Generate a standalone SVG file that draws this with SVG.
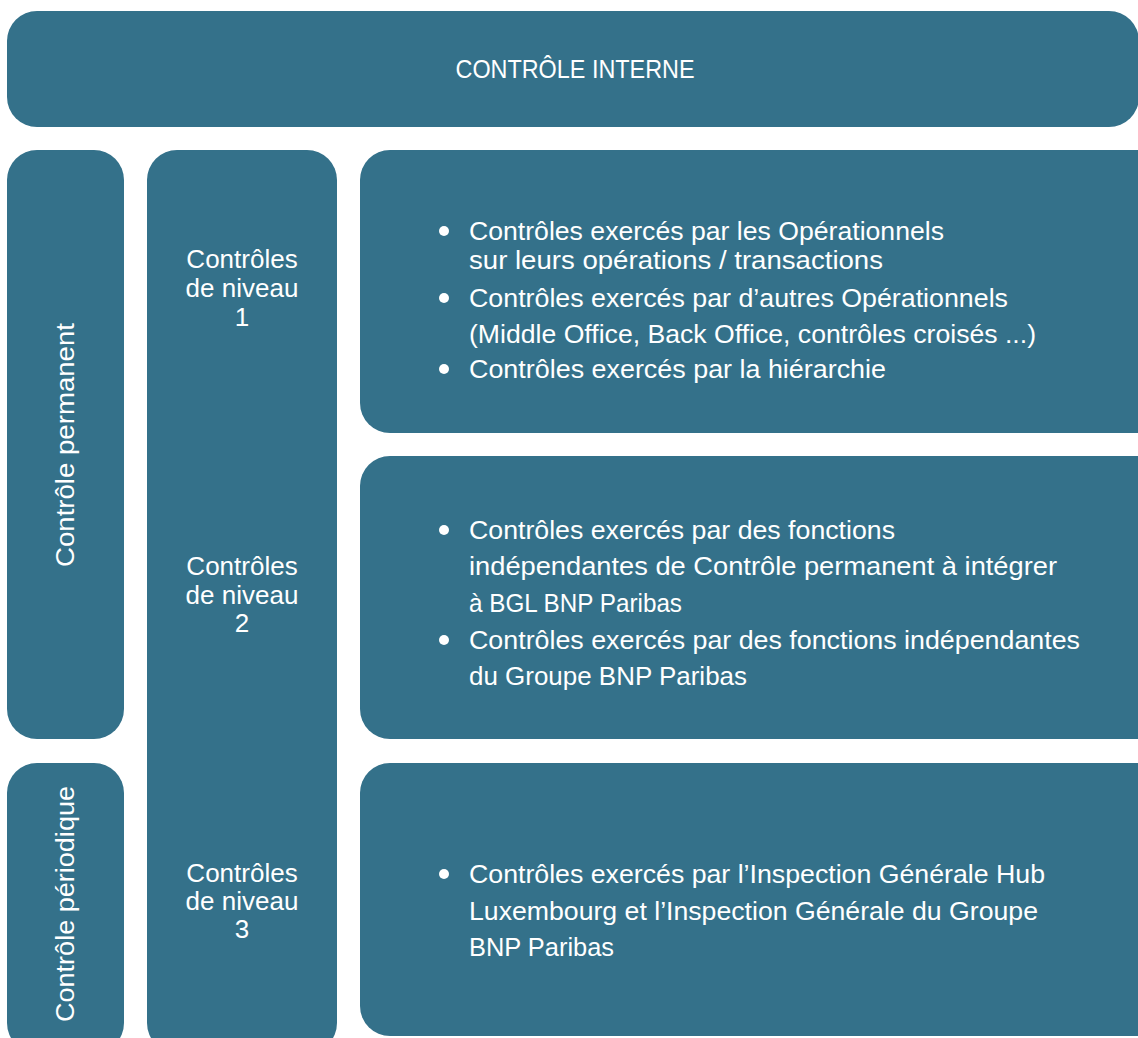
<svg xmlns="http://www.w3.org/2000/svg" width="1138" height="1038" viewBox="0 0 1138 1038">
<style>
.box{fill:#34718A}
.t{font-family:"Liberation Sans",Arial,sans-serif;fill:#ffffff;font-size:26px}
.c{text-anchor:middle}
.dot{fill:#ffffff}
</style>
<rect width="1138" height="1038" fill="#ffffff"/>
<g id="controle-interne">
<rect class="box" x="7" y="11" width="1132" height="116" rx="30"/>
<text class="t c" x="575" y="78" font-size="23.4" textLength="239" lengthAdjust="spacingAndGlyphs">CONTRÔLE INTERNE</text>
</g>
<g id="controle-permanent">
<rect class="box" x="7" y="150" width="117" height="589" rx="30"/>
<text class="t c" transform="translate(74,445) rotate(-90)" textLength="244" lengthAdjust="spacingAndGlyphs">Contrôle permanent</text>
</g>
<g id="controle-periodique">
<rect class="box" x="7" y="763" width="117" height="290" rx="30"/>
<text class="t c" transform="translate(74,904) rotate(-90)" textLength="236" lengthAdjust="spacingAndGlyphs">Contrôle périodique</text>
</g>
<g id="niveaux">
<rect class="box" x="147" y="150" width="190" height="903" rx="30"/>
<text class="t c" x="242" y="268">Contrôles</text>
<text class="t c" x="242" y="297">de niveau</text>
<text class="t c" x="242" y="326">1</text>
<text class="t c" x="242" y="575">Contrôles</text>
<text class="t c" x="242" y="604">de niveau</text>
<text class="t c" x="242" y="632">2</text>
<text class="t c" x="242" y="882">Contrôles</text>
<text class="t c" x="242" y="910">de niveau</text>
<text class="t c" x="242" y="938">3</text>
</g>
<g id="niveau-1">
<rect class="box" x="360" y="150" width="810" height="283" rx="30"/>
<circle class="dot" cx="444" cy="231" r="5"/>
<text class="t" x="469" y="240" textLength="475" lengthAdjust="spacingAndGlyphs">Contrôles exercés par les Opérationnels</text>
<text class="t" x="469" y="269" textLength="414" lengthAdjust="spacingAndGlyphs">sur leurs opérations / transactions</text>
<circle class="dot" cx="444" cy="298" r="5"/>
<text class="t" x="469" y="307" textLength="539" lengthAdjust="spacingAndGlyphs">Contrôles exercés par d’autres Opérationnels</text>
<text class="t" x="469" y="343" textLength="567" lengthAdjust="spacingAndGlyphs">(Middle Office, Back Office, contrôles croisés ...)</text>
<circle class="dot" cx="444" cy="369" r="5"/>
<text class="t" x="469" y="378" textLength="417" lengthAdjust="spacingAndGlyphs">Contrôles exercés par la hiérarchie</text>
</g>
<g id="niveau-2">
<rect class="box" x="360" y="456" width="810" height="283" rx="30"/>
<circle class="dot" cx="444" cy="530" r="5"/>
<text class="t" x="469" y="539" textLength="426" lengthAdjust="spacingAndGlyphs">Contrôles exercés par des fonctions</text>
<text class="t" x="469" y="575" textLength="588" lengthAdjust="spacingAndGlyphs">indépendantes de Contrôle permanent à intégrer</text>
<text class="t" x="469" y="612" textLength="213" lengthAdjust="spacingAndGlyphs">à BGL BNP Paribas</text>
<circle class="dot" cx="444" cy="640" r="5"/>
<text class="t" x="469" y="649" textLength="611" lengthAdjust="spacingAndGlyphs">Contrôles exercés par des fonctions indépendantes</text>
<text class="t" x="469" y="685" textLength="278" lengthAdjust="spacingAndGlyphs">du Groupe BNP Paribas</text>
</g>
<g id="niveau-3">
<rect class="box" x="360" y="763" width="810" height="273" rx="30"/>
<circle class="dot" cx="444" cy="874" r="5"/>
<text class="t" x="469" y="883" textLength="576" lengthAdjust="spacingAndGlyphs">Contrôles exercés par l’Inspection Générale Hub</text>
<text class="t" x="469" y="920" textLength="569" lengthAdjust="spacingAndGlyphs">Luxembourg et l’Inspection Générale du Groupe</text>
<text class="t" x="469" y="956" textLength="145" lengthAdjust="spacingAndGlyphs">BNP Paribas</text>
</g>
<g id="connectors"></g>
</svg>
